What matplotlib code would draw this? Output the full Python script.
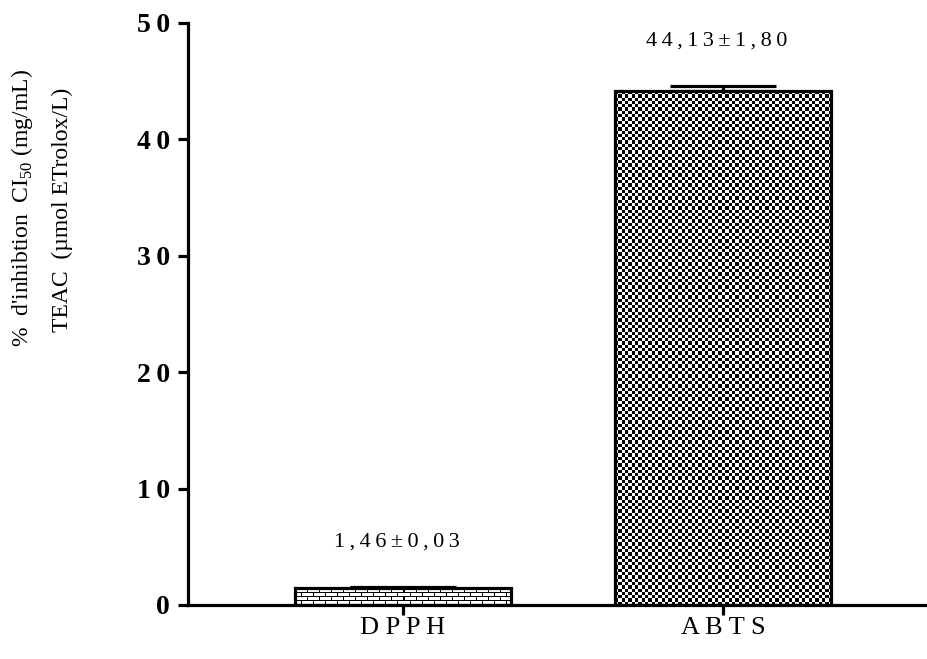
import numpy as np
import matplotlib
matplotlib.use("Agg")
import matplotlib.pyplot as plt
from matplotlib.patches import Rectangle

# données : activité antioxydante
tests = ["DPPH", "ABTS"]
moyennes = [1.46, 44.13]
ecarts_traces = [0.10, 0.50]
etiquettes = ["1,46±0,03", "44,13±1,80"]
graduations_y = [0, 10, 20, 30, 40, 50]

plt.rcParams['font.family'] = ['Liberation Serif', 'DejaVu Serif']
plt.rcParams['mathtext.fontset'] = 'custom'
plt.rcParams['mathtext.rm'] = 'Liberation Serif'


def espace(s, sep="\u2009"):
    # lettres espacées comme dans la figure d'origine
    return sep.join(s)


def damier(nx, ny):
    i, j = np.indices((ny, nx))
    return ((i + j) % 2).astype(float)


def briques(w, h, hb=4, lb=12):
    img = np.zeros((h, w))
    for r in range(h):
        rang = r // hb
        if r % hb == 0:
            continue
        decal = (lb // 2) if rang % 2 else 0
        for c in range(w):
            if (c + decal) % lb != 0:
                img[r, c] = 1.0
    return img


fig = plt.figure(figsize=(9.28, 6.59), dpi=100)
ax = fig.add_axes([188 / 928, 1 - 605 / 659, 1 - 188 / 928, (605 - 23) / 659])

x = np.arange(len(tests))
largeur = 0.675
ax.set_xlim(-0.672, 1.64)
ax.set_ylim(0, 50)

# contour des barres, motifs ajoutés en dessous
barres = ax.bar(x, moyennes, width=largeur, facecolor='none',
                edgecolor='black', linewidth=2.3, zorder=3)
ax.errorbar(x, moyennes, yerr=[np.zeros(len(x)), ecarts_traces], fmt='none',
            ecolor='black', elinewidth=2.3, capsize=38, capthick=2.3, zorder=2)

fig.canvas.draw()
for k, b in enumerate(barres):
    x0, y0 = b.get_x(), b.get_y()
    w, h = b.get_width(), b.get_height()
    p0 = ax.transData.transform((x0, y0))
    p1 = ax.transData.transform((x0 + w, y0 + h))
    wpx = int(round(p1[0] - p0[0]))
    hpx = int(round(p1[1] - p0[1]))
    if k == 0:
        motif = briques(wpx, hpx)
    else:
        motif = damier(int(round(wpx / 3.3)), int(round(hpx / 3.3)))
    im = ax.imshow(motif, cmap='gray', vmin=0, vmax=1, interpolation='nearest',
                   extent=[x0, x0 + w, y0, y0 + h], aspect='auto', zorder=2.5)
    clip = Rectangle((x0, y0), w, h, transform=ax.transData)
    im.set_clip_path(clip)

ax.set_xlim(-0.672, 1.64)
ax.set_ylim(0, 50)

for xi, m, e, t in zip(x, moyennes, ecarts_traces, etiquettes):
    ax.text(xi - 0.02, m + e + 3.0, espace(t), ha='center',
            va='bottom', fontsize=16)

for s in ['top', 'right']:
    ax.spines[s].set_visible(False)
for s in ['left', 'bottom']:
    ax.spines[s].set_linewidth(2.3)
ax.spines['bottom'].set_clip_on(False)

ax.set_yticks(graduations_y)
ax.set_yticklabels([espace(str(v)) for v in graduations_y],
                   fontsize=20, fontweight='bold')
ax.set_xticks(x)
ax.set_xticklabels([espace(t, " ") for t in tests], fontsize=19)
ax.tick_params(axis='both', width=2.3, length=7, pad=6)
ax.tick_params(axis='x', pad=2)

fig.text(22 / 928, 1 - 208 / 659, "%  d'inhibtion  CI$_{50}$ (mg/mL)",
         rotation=90, ha='center', va='center', fontsize=17)
fig.text(62 / 928, 1 - 210 / 659, "TEAC  (µmol ETrolox/L)",
         rotation=90, ha='center', va='center', fontsize=17)

fig.savefig("out.png", dpi=100)
